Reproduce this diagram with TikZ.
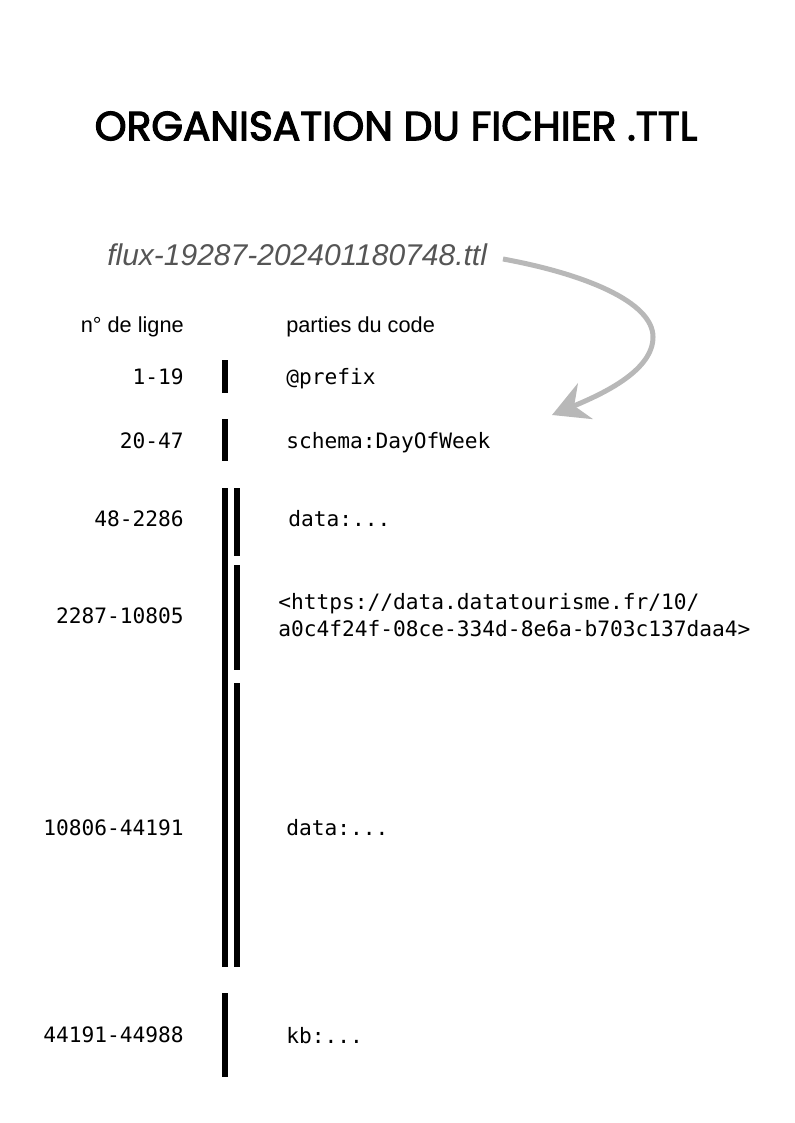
\documentclass[tikz,border=0pt]{standalone}
\usepackage{fontspec}
\setmainfont{Liberation Sans}
\setmonofont{DejaVu Sans Mono}
\newfontfamily\titlefont{Poppins}[FakeBold=3]
\usepackage{tikz}
\usetikzlibrary{arrows.meta,positioning}
\definecolor{arrowgrey}{HTML}{B8B8B8}
\definecolor{namegrey}{HTML}{555555}

\begin{document}
\begin{tikzpicture}[x=0.75pt,y=-0.75pt,
  num/.style={anchor=base east,inner sep=0pt,font=\ttfamily\fontsize{15.9}{19}\selectfont},
  code/.style={anchor=base west,inner sep=0pt,font=\ttfamily\fontsize{15.9}{19}\selectfont},
  head/.style={inner sep=0pt,font=\fontsize{16.3}{19}\selectfont},
  bar/.style={line width=4.5pt}]
\useasboundingbox (0,0) rectangle (794,1123);

% Title
\node[font=\titlefont\fontsize{30.5}{36}\selectfont] (titre) at (396,126) {ORGANISATION DU FICHIER .TTL};

% File name and arrow
\node[anchor=base west,inner sep=0pt,text=namegrey,font=\itshape\fontsize{22.5}{27}\selectfont] (fichier) at (107,265) {flux-19287-202401180748.ttl};
\coordinate (depart) at (503,259);
\coordinate (cible) at (552,415);
\draw[arrowgrey,line width=3.75pt,-{Stealth[length=27pt,width=29pt,inset=9pt]}]
  (depart) .. controls (585,274) and (653,302) .. (653,337)
  .. controls (653,370) and (605,393) .. (cible);

% Column headings
\node[head,anchor=base east] (lignes) at (184,332) {n° de ligne};
\node[head,anchor=base west] (parties) at (286,332) {parties du code};

% Line numbers
\node[num] (n1) at (184,384) {1-19};
\node[num] (n2) at (184,448) {20-47};
\node[num] (n3) at (184,526) {48-2286};
\node[num] (n4) at (184,623) {2287-10805};
\node[num] (n5) at (184,835) {10806-44191};
\node[num] (n6) at (184,1042) {44191-44988};

% Code parts
\node[code] (c1) at (286,384) {@prefix};
\node[code] (c2) at (286,448) {schema:DayOfWeek};
\node[code] (c3) at (288,526) {data:...};
\node[code] (c4a) at (278,609) {<https://data.datatourisme.fr/10/};
\node[code] (c4b) at (278,636) {a0c4f24f-08ce-334d-8e6a-b703c137daa4>};
\node[code] (c5) at (286,835) {data:...};
\node[code] (c6) at (286,1043) {kb:...};

% Bars
\draw[bar] (225,360) -- (225,393);
\draw[bar] (225,419) -- (225,461);
\draw[bar] (225,488) -- (225,967);
\draw[bar] (237,488) -- (237,556);
\draw[bar] (237,565) -- (237,670);
\draw[bar] (237,683) -- (237,967);
\draw[bar] (225,993) -- (225,1077);
\end{tikzpicture}
\end{document}
